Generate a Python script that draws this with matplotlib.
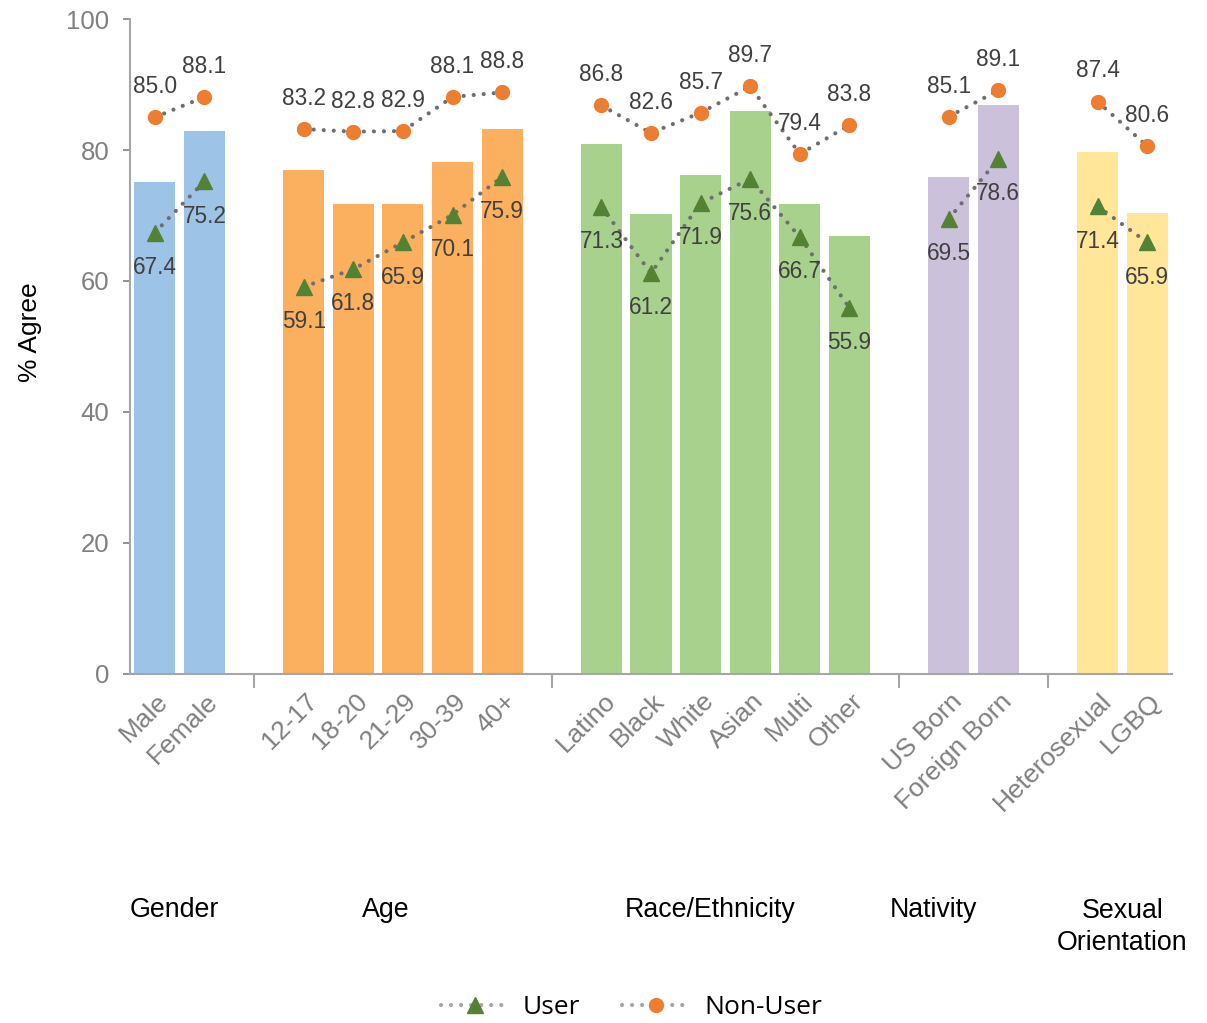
import matplotlib.pyplot as plt
from matplotlib.lines import Line2D
from matplotlib.transforms import blended_transform_factory

plt.rcParams['font.family'] = ['Liberation Sans', 'DejaVu Sans']

groups = ['Gender', 'Age', 'Race/Ethnicity', 'Nativity', 'Sexual\nOrientation']
categories = [
    ['Male', 'Female'],
    ['12-17', '18-20', '21-29', '30-39', '40+'],
    ['Latino', 'Black', 'White', 'Asian', 'Multi', 'Other'],
    ['US Born', 'Foreign Born'],
    ['Heterosexual', 'LGBQ'],
]
bar_values = [
    [75.1, 82.9],
    [76.9, 71.8, 71.8, 78.2, 83.2],
    [80.9, 70.2, 76.2, 86.0, 71.8, 66.9],
    [75.9, 86.9],
    [79.7, 70.4],
]
user = [
    [67.4, 75.2],
    [59.1, 61.8, 65.9, 70.1, 75.9],
    [71.3, 61.2, 71.9, 75.6, 66.7, 55.9],
    [69.5, 78.6],
    [71.4, 65.9],
]
non_user = [
    [85.0, 88.1],
    [83.2, 82.8, 82.9, 88.1, 88.8],
    [86.8, 82.6, 85.7, 89.7, 79.4, 83.8],
    [85.1, 89.1],
    [87.4, 80.6],
]
bar_colors = ['#9DC3E6', '#FAB05E', '#A9D18E', '#CBC1DB', '#FFE699']

user_color = '#548235'
non_user_color = '#ED7D31'
line_color = '#6f6f6f'
label_color = '#404040'
dots = (0, (0.01, 2.4))

fig = plt.figure(figsize=(12.07, 10.23), dpi=100)
ax = fig.add_axes([0.1077, 0.3412, 0.8633, 0.6402])

xticks, xlabels, seps = [], [], []
pos = 0
for g, cats in enumerate(categories):
    xs = list(range(pos, pos + len(cats)))
    ax.bar(xs, bar_values[g], width=0.83, color=bar_colors[g], zorder=1)
    for series in (user[g], non_user[g]):
        ax.plot(xs, series, linestyle=dots, color=line_color, lw=3,
                dash_capstyle='round', zorder=2)
    ax.plot(xs, user[g], linestyle='none', marker='^', ms=11,
            color=user_color, zorder=3)
    ax.plot(xs, non_user[g], linestyle='none', marker='o', ms=10,
            color=non_user_color, zorder=3)
    for x, u, n in zip(xs, user[g], non_user[g]):
        ax.annotate(f'{u:.1f}', (x, u), xytext=(0, -25), textcoords='offset points',
                    ha='center', va='center', fontsize=16.3, color=label_color, zorder=4)
        ax.annotate(f'{n:.1f}', (x, n), xytext=(0, 22), textcoords='offset points',
                    ha='center', va='center', fontsize=16.3, color=label_color, zorder=4)
    xticks += xs
    xlabels += cats
    pos += len(cats)
    if g < len(categories) - 1:
        seps.append(pos)
        pos += 1

ax.set_xlim(-0.5, pos - 0.5)
ax.set_ylim(0, 100)
ax.set_yticks(range(0, 101, 20))
ax.tick_params(axis='y', colors='#808080', labelsize=18.5, length=5, width=1.2, pad=10)
ax.set_xticks(seps)
ax.set_xticklabels([])
ax.tick_params(axis='x', colors='#a6a6a6', length=10, width=1.5, direction='out')
for x, lab in zip(xticks, xlabels):
    ax.text(x + 0.03, -2.3, lab, rotation=45, ha='right', va='top', rotation_mode='anchor',
            fontsize=19, color='#808080', transform=ax.transData)

for s in ['top', 'right']:
    ax.spines[s].set_visible(False)
for s in ['left', 'bottom']:
    ax.spines[s].set_color('#a6a6a6')
    ax.spines[s].set_linewidth(1.5)

ax.set_ylabel('% Agree', fontsize=19)
ax.yaxis.set_label_coords(-0.084, 0.522)

# group names below the rotated labels
trans = blended_transform_factory(ax.transData, fig.transFigure)
group_label_x = [0.4, 4.65, 11.2, 15.7, 19.5]
for name, gx in zip(groups, group_label_x):
    if '\n' in name:
        ax.text(gx, 1 - 898 / 1023, name, ha='center', va='top', fontsize=19.3,
                transform=trans, linespacing=1.3)
    else:
        ax.text(gx, 1 - 910 / 1023, name, ha='center', va='center', fontsize=19.3,
                transform=trans)

handles = [
    Line2D([], [], linestyle=dots, color='#a6a6a6', lw=3, dash_capstyle='round',
           marker='^', ms=11, markerfacecolor=user_color, markeredgecolor=user_color),
    Line2D([], [], linestyle=dots, color='#a6a6a6', lw=3, dash_capstyle='round',
           marker='o', ms=10, markerfacecolor=non_user_color, markeredgecolor=non_user_color),
]
fig.legend(handles, ['User', 'Non-User'], loc='center', bbox_to_anchor=(0.523, 1 - 1008 / 1023),
           ncol=2, frameon=False, handlelength=2.6, handletextpad=0.5, columnspacing=1.6,
           prop={'family': 'Open Sans', 'size': 19})

fig.savefig('out.png', dpi=100)
